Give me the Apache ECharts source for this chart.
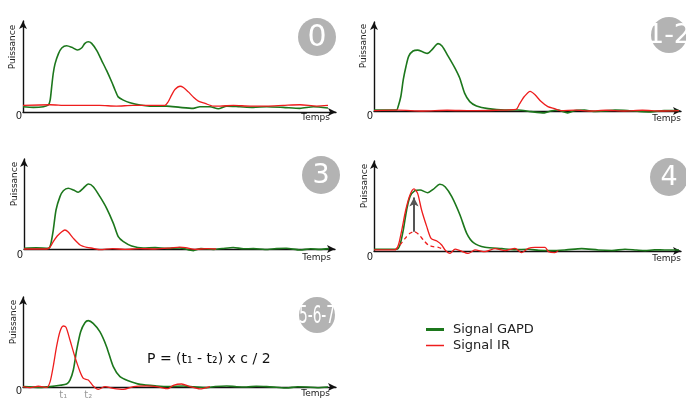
<!DOCTYPE html>
<html><head><meta charset="utf-8">
<script src="https://cdn.jsdelivr.net/npm/echarts@6/dist/echarts.min.js"></script>
<style>html,body{margin:0;padding:0;background:#fff}#c{width:686px;height:398px}</style>
</head><body><div id="c"></div>
<script>
// ---- data (time in arbitrary units 0..100, power in arbitrary units 0..100) ----
const panelLabels = ['0', '1-2', '3', '4', '5-6-7'];
const seriesNames = ['Signal GAPD', 'Signal IR'];
const axisNames = { x: 'Temps', y: 'Puissance', origin: '0' };
const formulaText = 'P = (t\u2081 - t\u2082) x c / 2';
const timeMarks = [13.2, 21.4];
const timeMarkLabels = ['t\u2081', 't\u2082'];

const gapd0 = [[0,5.6],[3.4,4.9],[6.7,5.6],[8.3,7.4],[8.9,12.6],[9.4,26.7],[9.9,40.7],[10.5,51.2],[11.6,61.8],[12.7,68.1],[14.3,70.5],[16.0,68.8],[17.8,66.0],[19.2,68.1],[20.3,73.0],[21.4,74.7],[22.5,73.0],[24.2,65.3],[25.8,54.7],[27.4,44.2],[29.1,31.9],[30.2,23.2],[31.2,16.1],[32.9,12.6],[35.1,9.8],[38.4,7.4],[41.6,6.3],[47.1,6.3],[51.5,4.9],[55.8,3.9],[58.0,5.6],[61.3,5.6],[64.0,3.5],[66.8,6.3],[71.1,5.6],[75.5,4.9],[79.9,5.6],[85.3,4.9],[90.8,3.9],[95.2,5.6],[100,4.2]];
const ir0 = [[0,7.0],[8.9,7.7],[14.3,7.0],[19.8,7.0],[25.1,7.0],[30.6,6.3],[36.0,7.0],[41.6,7.0],[46.5,7.0],[47.6,10.9],[48.7,17.9],[49.8,23.9],[51.5,27.4],[52.6,26.0],[54.2,21.4],[55.8,16.1],[57.5,11.6],[59.7,9.1],[62.4,6.3],[64.6,6.3],[69.0,7.0],[74.5,6.3],[79.9,6.3],[85.3,7.0],[90.8,7.7],[96.3,6.3],[100,7.0]];

const gapd12 = [[0,1.1],[7.4,1.1],[7.9,4.6],[8.8,15.4],[9.6,33.3],[10.5,47.6],[11.4,58.4],[12.8,63.8],[14.3,64.8],[16.1,62.7],[17.5,61.3],[19.1,65.6],[21.0,71.7],[22.3,69.1],[24.3,58.4],[26.5,45.9],[28.1,35.1],[29.7,19.0],[31.4,10.0],[33.6,5.4],[37.4,2.5],[42.8,1.1],[47.2,1.1],[51.5,-0.7],[55.9,-2],[58,0],[60.2,1],[63.5,-2],[66,0.5],[69,1],[72,-0.5],[75.5,0],[79,1],[83.1,0.5],[87,-0.5],[90.7,-1],[95.1,0.5],[100,0.5]];
const ir12 = [[0,0.5],[8,1],[16,0],[24,0.8],[32,0.3],[40,0.8],[46.6,1.8],[47.7,7.5],[49.3,15.4],[51.2,20.8],[52.8,17.2],[54.8,10],[57,4.6],[59.2,2.5],[61.3,0.5],[66,1],[71,0],[76,0.8],[82,0],[88,0.8],[94,0],[100,0.5]];

const gapd3 = [[0,0.7],[4,1.2],[8.0,0.7],[8.7,4.3],[9.6,20.2],[10.5,41.5],[11.8,55.7],[12.9,62.0],[14.5,64.6],[16.2,62.8],[17.8,60.3],[19.4,64.6],[21.1,69.1],[22.7,66.3],[24.9,55.7],[27.1,43.3],[29.3,27.3],[30.9,13.1],[32.6,7.8],[35.3,3.2],[39.1,1.1],[43,1.5],[46.8,0.7],[51,1.2],[55.5,-1.8],[58,0.5],[62.1,-0.4],[65,0.5],[68.6,1.6],[72,0.2],[75.2,0.4],[79,-0.5],[82.8,0.4],[86,0.8],[90.5,-1],[94,0.2],[97.0,-0.4],[100,0.4]];
const ir3 = [[0,0],[7.4,0],[8.5,1.8],[9.6,7.8],[10.9,13.8],[12.4,18.4],[13.4,20.2],[14.5,18.1],[16.2,11.3],[18.4,4.3],[20.6,1.8],[22.7,0.7],[24.9,-0.7],[29,0.5],[33,-0.5],[38,0.5],[43,0],[48,1],[51,2],[53,1.5],[56,-0.5],[60,0.5],[63,0]];

const gapd4 = [[0,1.8],[7.4,1.8],[8.5,6.4],[9.6,22.3],[10.7,43.6],[11.8,57.8],[13.4,64.2],[15.1,64.9],[17.6,62.0],[19.4,65.6],[21.6,71.0],[23.3,68.4],[25.5,57.8],[28.2,38.3],[30.4,18.8],[32.6,8.9],[36.4,3.9],[41.9,2.5],[46,1.5],[50.6,1.8],[54,0.8],[58.3,0.4],[63,1.2],[68.1,2.5],[73.5,1.1],[78,0.6],[82.3,1.8],[86,1.0],[88.9,0.4],[92,1.2],[95.4,1.1],[100,1.1]];
const ir4 = [[0,1.1],[6.9,1.1],[8.0,6.4],[9.1,22.3],[10.4,43.6],[11.8,59.6],[13.1,66.0],[14.3,61.3],[15.6,43.6],[17.3,25.9],[18.7,13.5],[20.6,10.6],[22.2,6.4],[23.3,1.1],[24.9,-2.5],[26.6,2.1],[28.2,0.4],[30.9,-2.5],[33.1,1.1],[36.4,-0.7],[39.7,2.5],[43.0,0.4],[46.2,2.8],[48.4,-1.8],[50.6,2.8],[52.8,3.9],[56.1,3.9],[57.2,-0.7],[59.3,-1.8],[60.4,0.4]];
const ir4Weak = [[6.9,1.1],[8.5,6.4],[10.2,13.5],[11.8,18.8],[13.1,20.6],[14.5,18.1],[16.2,11.7],[17.8,6.4],[19.4,4.6],[21.1,3.9],[22.7,1.8]];
const gainArrow = { t: 13.1, from: 20.6, to: 57 };

const gapd567 = [[0,0.4],[5.6,-0.4],[8.9,0.4],[12.1,1.8],[14.3,3.2],[15.4,7.4],[16.5,18.1],[17.6,39.4],[18.9,58.8],[20.3,68.4],[21.4,70.6],[23.0,67.7],[25.2,58.8],[27.4,42.9],[29.6,21.6],[31.8,11.0],[34.5,6.7],[38.4,2.8],[43.8,1.1],[48,0.5],[52.6,1.1],[56,0.2],[60.2,-0.7],[63,0.5],[66.8,1.1],[70,0.3],[73.3,0],[76.5,0.8],[79.9,0.4],[83,-0.3],[86.4,-1.1],[90,0.3],[93.0,0],[96.5,-0.8],[100,0]];
const ir567 = [[0,0.4],[2.5,-0.6],[5,0.8],[7.8,-0.4],[8.9,5.7],[9.9,21.6],[11.0,42.9],[12.1,58.8],[13.2,64.9],[14.1,63.5],[15.4,50.0],[17.0,32.3],[18.7,16.3],[19.8,9.2],[21.4,7.4],[23.0,1.1],[24.7,-2.5],[26.9,0.4],[29.6,-1.4],[32.9,-2.5],[36.2,0.4],[40.5,1.1],[43.8,0.4],[47.6,-1.8],[49.3,1.8],[52.0,3.2],[54.8,0.4],[58.0,-2.1],[61.3,0.4]];

const gapdSets = [gapd0, gapd12, gapd3, gapd4, gapd567];
const irSets = [ir0, ir12, ir3, ir4, ir567];

// ---- layout ----
const FONT = 'DejaVu Sans, sans-serif';
const GREEN = '#1c771c', RED = '#ee1d1d', GRAY = '#b3b3b3';
const grids = [
  { left: 23, top: 21, width: 313, height: 91 },
  { left: 374, top: 22, width: 307, height: 89 },
  { left: 24, top: 159, width: 311, height: 90 },
  { left: 374, top: 161, width: 307, height: 90 },
  { left: 23, top: 297, width: 313, height: 90 }
];
const pxPerT = 3.05, pxPerV = 0.94;
const circles = [
  { cx: 317, cy: 37, r: 19, fs: 30, sx: 1 },
  { cx: 669, cy: 35, r: 18, fs: 27, sx: 1 },
  { cx: 321, cy: 175, r: 19, fs: 27, sx: 1 },
  { cx: 669, cy: 177, r: 19, fs: 27, sx: 1 },
  { cx: 317, cy: 315, r: 18, fs: 25, sx: 0.55 }
];
const yNamePos = [[13, 47], [364, 46], [15, 184], [365, 186], [14, 322]];
const originPos = [[19, 116], [370, 116], [20, 255], [370, 257], [19, 391]];
const xNamePos = [[330, 118], [681, 119], [331, 258], [681, 259], [330, 394]];

const chart = echarts.init(document.getElementById('c'), null, { renderer: 'canvas' });

const axisLine = { show: true, onZero: false, symbol: ['none', 'arrow'], symbolSize: [6, 8], lineStyle: { color: '#111', width: 1.4 } };
const xAxes = grids.map((g, i) => ({ gridIndex: i, type: 'value', min: 0, max: +(g.width / pxPerT).toFixed(2),
  axisLine, axisTick: { show: false }, axisLabel: { show: false }, splitLine: { show: false } }));
const yAxes = grids.map((g, i) => ({ gridIndex: i, type: 'value', min: 0, max: +(g.height / pxPerV).toFixed(2),
  axisLine, axisTick: { show: false }, axisLabel: { show: false }, splitLine: { show: false } }));

const series = [];
gapdSets.forEach((d, i) => {
  series.push({ type: 'line', name: seriesNames[0], xAxisIndex: i, yAxisIndex: i, data: d, symbol: 'none', smooth: 0.25, clip: false,
    lineStyle: { color: GREEN, width: 1.6 }, itemStyle: { color: GREEN }, z: 2 });
});
irSets.forEach((d, i) => {
  const s = { type: 'line', name: seriesNames[1], xAxisIndex: i, yAxisIndex: i, data: d, symbol: 'none', smooth: 0.25, clip: false,
    lineStyle: { color: RED, width: 1.3 }, itemStyle: { color: RED }, z: 3 };
  if (i === 4) {
    s.markLine = { silent: true, symbol: ['none', 'none'], label: { show: false }, animation: false,
      lineStyle: { color: '#aaa', width: 1.2, type: 'solid' },
      data: timeMarks.map(t => [{ coord: [t, -12] }, { coord: [t, 91.5] }]) };
  }
  series.push(s);
});
series.push({ type: 'line', name: seriesNames[1], xAxisIndex: 3, yAxisIndex: 3, data: ir4Weak, symbol: 'none', smooth: 0.25, clip: false,
  lineStyle: { color: RED, width: 1.3, type: [4, 3] }, itemStyle: { color: RED }, z: 3,
  markLine: { silent: true, symbol: ['none', 'arrow'], symbolSize: [7, 9], label: { show: false }, animation: false,
    lineStyle: { color: '#555', width: 2, type: 'solid' },
    data: [[{ coord: [gainArrow.t, gainArrow.from] }, { coord: [gainArrow.t, gainArrow.to] }]] } });

const graphic = [];
grids.forEach((g, i) => {
  graphic.push({ type: 'text', x: yNamePos[i][0], y: yNamePos[i][1], rotation: Math.PI / 2,
    style: { text: axisNames.y, fontSize: 9, fill: '#222', align: 'center', verticalAlign: 'middle', fontFamily: FONT } });
  graphic.push({ type: 'text', x: originPos[i][0], y: originPos[i][1],
    style: { text: axisNames.origin, fontSize: 10, fill: '#222', align: 'center', verticalAlign: 'middle', fontFamily: FONT } });
  graphic.push({ type: 'text', x: xNamePos[i][0], y: xNamePos[i][1],
    style: { text: axisNames.x, fontSize: 9, fill: '#222', align: 'right', verticalAlign: 'middle', fontFamily: FONT } });
  const c = circles[i];
  graphic.push({ type: 'circle', shape: { cx: c.cx, cy: c.cy, r: c.r }, style: { fill: GRAY }, z: 10 });
  graphic.push({ type: 'text', x: c.cx, y: c.cy + 1, scaleX: c.sx, z: 11,
    style: { text: panelLabels[i], fontSize: c.fs, fill: '#fff', align: 'center', verticalAlign: 'middle', fontFamily: FONT } });
});
graphic.push({ type: 'text', x: 147, y: 359,
  style: { text: formulaText, fontSize: 14, fill: '#111', verticalAlign: 'middle', fontFamily: FONT } });

const option = {
  animation: false,
  textStyle: { fontFamily: FONT },
  grid: grids.map(g => Object.assign({ containLabel: false }, g)),
  xAxis: xAxes, yAxis: yAxes, series,
  legend: [
    { data: [{ name: seriesNames[0], icon: 'rect' }], left: 426, top: 323, padding: 0, itemWidth: 18, itemHeight: 3, itemGap: 10,
      textStyle: { fontSize: 13, color: '#222', fontFamily: FONT, padding: [0, 0, 0, 4] }, selectedMode: false },
    { data: [{ name: seriesNames[1], icon: 'rect' }], left: 426, top: 339, padding: 0, itemWidth: 18, itemHeight: 1.5, itemGap: 10,
      textStyle: { fontSize: 13, color: '#222', fontFamily: FONT, padding: [0, 0, 0, 4] }, selectedMode: false }
  ],
  graphic
};
chart.setOption(option);

// t labels under the vertical time marks, placed via the axis scale
const tLabels = timeMarks.map((t, k) => {
  const p = chart.convertToPixel({ gridIndex: 4 }, [t, 0]);
  return { type: 'text', x: p[0], y: 395, style: { text: timeMarkLabels[k], fontSize: 10, fill: '#999', align: 'center', verticalAlign: 'middle', fontFamily: FONT } };
});
chart.setOption({ graphic: graphic.concat(tLabels) });
</script></body></html>
